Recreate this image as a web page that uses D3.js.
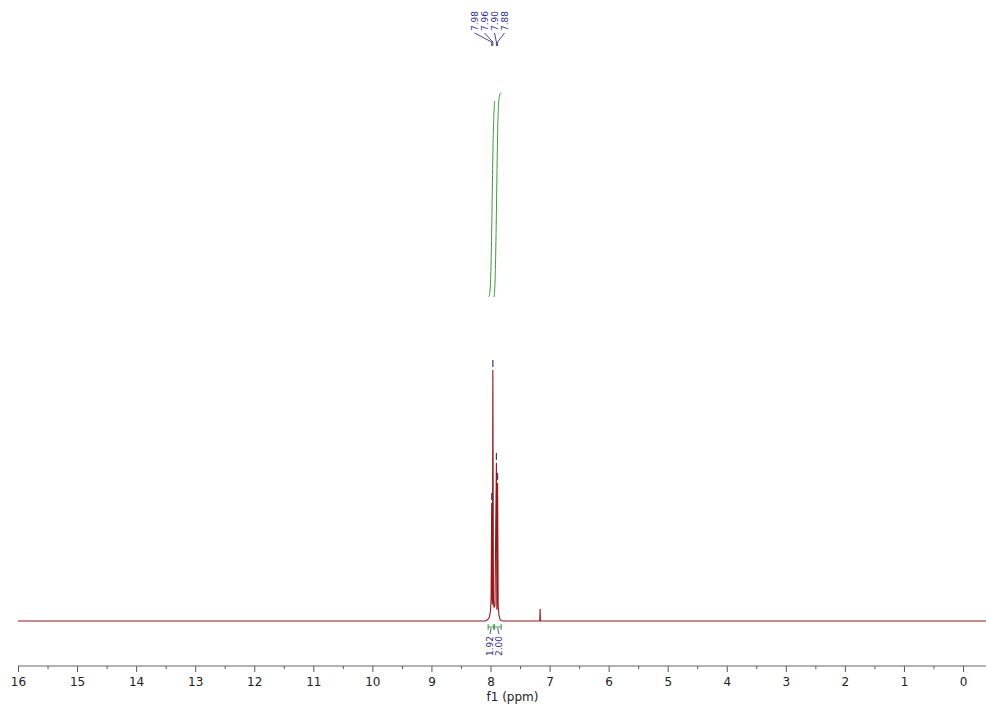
<!DOCTYPE html>
<html>
<head>
<meta charset="utf-8">
<script src="https://cdn.jsdelivr.net/npm/d3@7"></script>
<style>
  body { margin: 0; background: #fff; }
  text { font-family: "DejaVu Sans", Verdana, sans-serif; }
</style>
</head>
<body>
<div id="chart"></div>
<script>
// spectrum trace, [ppm, intensity] (tallest line = 100)
var spectrum = [
  [16, 0], [8.09, 0], [8.05, 0.5], [8.02, 1.5], [8.0, 4], [7.99, 9],
  [7.98, 47], [7.972, 9], [7.968, 6.5], [7.96, 100], [7.95, 8], [7.94, 5.5],
  [7.925, 6], [7.90, 63], [7.893, 5], [7.89, 4.5], [7.88, 55], [7.87, 6],
  [7.855, 2], [7.84, 0.8], [7.82, 0.2], [7.79, 0],
  [7.165, 0], [7.16, 4.8], [7.155, 0], [-0.4, 0]
];

// picked peaks
var peakPpm = [7.98, 7.96, 7.90, 7.88];
var peakHeight = [47, 100, 63, 55];
var peakText = ["7.98", "7.96", "7.90", "7.88"];

// integrals
var integralValue = [1.92, 2.00];
var integralText = ["1.92", "2.00"];
var integralRange = [[8.04, 7.94], [7.94, 7.82]];
var integralCurve1 = [[8.035, 0], [8.02, 0.005], [8.005, 0.03], [7.99, 0.15], [7.975, 0.42],
                      [7.96, 0.75], [7.945, 0.93], [7.93, 1.0]];
var integralCurve2 = [[7.94, 0], [7.925, 0.04], [7.91, 0.22], [7.895, 0.52], [7.88, 0.82],
                      [7.865, 0.95], [7.85, 0.99], [7.83, 1.0], [7.815, 1.0]];

// axis
var xTickLabels = [16, 15, 14, 13, 12, 11, 10, 9, 8, 7, 6, 5, 4, 3, 2, 1, 0];
var axisTitle = "f1 (ppm)";

var width = 986, height = 705;
var navy = "#2b2b8c", green = "#3c9a3c";

var svg = d3.select("#chart").append("svg")
    .attr("width", width)
    .attr("height", height);

var x = d3.scaleLinear().domain([16, 0]).range([18, 963]);
var y = d3.scaleLinear().domain([0, 100]).range([621, 370]);
var yInt = d3.scaleLinear().domain([0, 2]).range([297, 93]);

// ---- spectrum ----
var line = d3.line()
    .x(function(d) { return x(d[0]); })
    .y(function(d) { return y(d[1]); });

svg.append("path")
    .attr("d", line(spectrum))
    .attr("fill", "none")
    .attr("stroke", "#961818")
    .attr("stroke-width", 1.1);

// peak markers above the picked lines
svg.append("g").selectAll("line")
    .data(peakPpm)
    .enter().append("line")
    .attr("x1", function(d) { return x(d); })
    .attr("x2", function(d) { return x(d); })
    .attr("y1", function(d, i) { return y(peakHeight[i]) - 10; })
    .attr("y2", function(d, i) { return y(peakHeight[i]) - 3; })
    .attr("stroke", "#3a3a7a")
    .attr("stroke-width", 1.2);

// ---- peak labels at the top ----
var labelMid = 489.5, labelStep = 10;
var gl = svg.append("g");
peakPpm.forEach(function(p, i) {
    var lx = labelMid + (i - 1.5) * labelStep;
    gl.append("text")
        .attr("transform", "translate(" + (lx + 3) + ",31) rotate(-90)")
        .attr("font-size", 9)
        .attr("fill", navy)
        .text(peakText[i]);
    gl.append("path")
        .attr("d", "M" + lx + ",33 L" + x(p) + ",42 L" + x(p) + ",46")
        .attr("fill", "none")
        .attr("stroke", navy)
        .attr("stroke-width", 0.9);
});

// ---- integral curves ----
var intLine = d3.line()
    .curve(d3.curveBasis)
    .x(function(d) { return x(d[0]); });

[integralCurve1, integralCurve2].forEach(function(c, i) {
    svg.append("path")
        .attr("d", intLine.y(function(d) { return yInt(d[1] * integralValue[i]); })(c))
        .attr("fill", "none")
        .attr("stroke", green)
        .attr("stroke-width", 1);
});

// integral brackets and values under the baseline
var gi = svg.append("g");
var intLabelMid = 494.5, intLabelStep = 9;
integralRange.forEach(function(r, i) {
    var x0 = x(r[0]), x1 = x(r[1]), xm = (x0 + x1) / 2;
    gi.append("path")
        .attr("d", "M" + x0 + ",624 V630 M" + x0 + ",627 H" + x1 + " M" + x1 + ",624 V630")
        .attr("fill", "none")
        .attr("stroke", green)
        .attr("stroke-width", 1);
    var tx = intLabelMid + (i - 0.5) * intLabelStep;
    gi.append("path")
        .attr("d", "M" + xm + ",628 L" + tx + ",634")
        .attr("fill", "none")
        .attr("stroke", navy)
        .attr("stroke-width", 0.8);
    gi.append("text")
        .attr("transform", "translate(" + (tx + 3) + ",636) rotate(-90)")
        .attr("text-anchor", "end")
        .attr("font-size", 9)
        .attr("fill", navy)
        .text(integralText[i]);
});

// ---- x axis ----
var minorTicks = xTickLabels.slice(1).map(function(d) { return d + 0.5; });

var gx = svg.append("g").attr("transform", "translate(0,666)");
gx.call(d3.axisBottom(x).tickValues(xTickLabels).tickSize(6).tickPadding(5)
        .tickFormat(d3.format("d")));
gx.append("g").call(d3.axisBottom(x).tickValues(minorTicks).tickSize(3).tickFormat(""));
gx.selectAll(".domain").remove();
gx.append("line")
    .attr("x1", x(16)).attr("x2", width)
    .attr("stroke", "#666").attr("stroke-width", 1.2);
gx.selectAll(".tick line").attr("stroke", "#555");
gx.selectAll(".tick text")
    .attr("font-size", 12)
    .attr("fill", "#222")
    .style("font-family", "\"DejaVu Sans\", Verdana, sans-serif");

svg.append("text")
    .attr("x", x(8) + 22)
    .attr("y", 701)
    .attr("text-anchor", "middle")
    .attr("font-size", 12)
    .attr("fill", "#222")
    .text(axisTitle);
</script>
</body>
</html>
